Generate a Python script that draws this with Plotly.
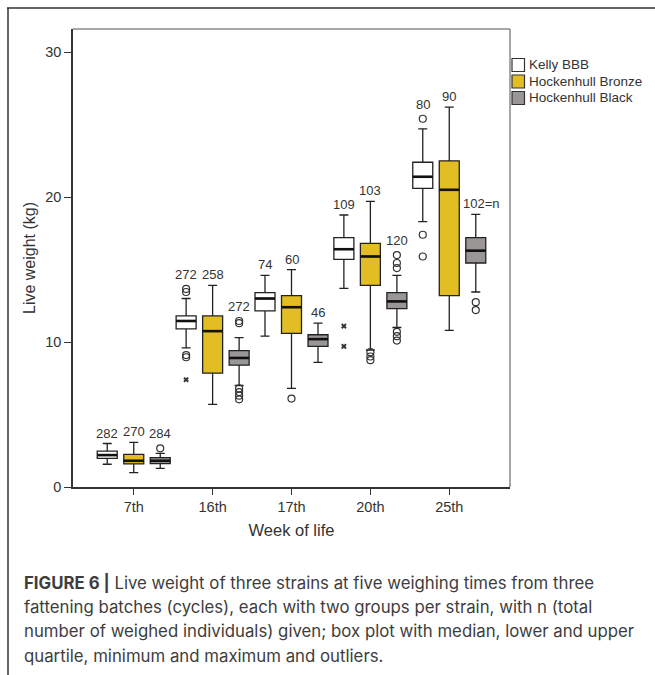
import plotly.graph_objects as go

# ---------------- data ----------------
weeks = ["7th", "16th", "17th", "20th", "25th"]
strains = ["Kelly BBB", "Hockenhull Bronze", "Hockenhull Black"]

kelly_low = [1.57, 9.6, 10.4, 13.7, 18.3]
kelly_q1 = [1.98, 10.9, 12.15, 15.7, 20.6]
kelly_med = [2.2, 11.45, 13.0, 16.4, 21.4]
kelly_q3 = [2.48, 11.8, 13.4, 17.2, 22.4]
kelly_high = [3.0, 13.0, 14.6, 18.76, 24.7]
kelly_out = [[], [13.66, 13.45, 9.1, 8.95], [], [], [25.4, 17.4, 15.9]]
kelly_ext = [[], [7.4], [], [11.1, 9.7], []]
kelly_n = ["282", "272", "74", "109", "80"]

bronze_low = [0.99, 5.7, 6.8, 9.45, 10.8]
bronze_q1 = [1.59, 7.86, 10.6, 13.9, 13.2]
bronze_med = [1.81, 10.75, 12.4, 15.9, 20.5]
bronze_q3 = [2.25, 11.8, 13.2, 16.8, 22.5]
bronze_high = [3.08, 13.9, 15.0, 19.7, 26.2]
bronze_out = [[], [], [6.1], [9.3, 9.0, 8.75], []]
bronze_ext = [[], [], [], [], []]
bronze_n = ["270", "258", "60", "103", "90"]

black_low = [1.29, 7.0, 8.6, 11.0, 13.45]
black_q1 = [1.61, 8.4, 9.7, 12.3, 15.45]
black_med = [1.81, 8.9, 10.2, 12.8, 16.3]
black_q3 = [2.02, 9.4, 10.5, 13.4, 17.2]
black_high = [2.32, 10.3, 11.3, 14.6, 18.8]
black_out = [[2.67], [11.45, 11.3, 6.8, 6.55, 6.3, 6.05], [], [16.0, 15.45, 15.1, 10.7, 10.4, 10.1], [12.75, 12.2]]
black_ext = [[], [], [], [], []]
black_n = ["284", "272", "46", "120", "102=n"]

colors = ["#ffffff", "#e2bd24", "#9a9696"]

# ---------------- layout constants ----------------
W, H = 655, 675
ML, MR, MT, MB = 73, 145, 29, 188
PW, PH = W - ML - MR, H - MT - MB
OFFSET = 0.336
BOXW = 0.2535
TXT = "#333333"
FONT = "Liberation Sans, Arial, sans-serif"


def px_x(px):
    return (px - ML) / PW


def px_y(py):
    return (H - MB - py) / PH


series = [
    (kelly_low, kelly_q1, kelly_med, kelly_q3, kelly_high, kelly_out, kelly_ext, kelly_n),
    (bronze_low, bronze_q1, bronze_med, bronze_q3, bronze_high, bronze_out, bronze_ext, bronze_n),
    (black_low, black_q1, black_med, black_q3, black_high, black_out, black_ext, black_n),
]

fig = go.Figure()
annotations = []

for j, (low, q1, med, q3, high, outs, exts, ns) in enumerate(series):
    pos = [i + (j - 1) * OFFSET for i in range(len(weeks))]
    fig.add_trace(go.Box(
        x=pos, lowerfence=low, q1=q1, median=med, q3=q3, upperfence=high,
        name=strains[j], width=BOXW, whiskerwidth=0.45,
        fillcolor=colors[j], line=dict(color="#222222", width=1.3),
        boxpoints=False, showlegend=False, hoverinfo="skip",
    ))
    # thick median lines
    mx, my = [], []
    for p, m in zip(pos, med):
        mx += [p - BOXW / 2, p + BOXW / 2, None]
        my += [m, m, None]
    fig.add_trace(go.Scatter(x=mx, y=my, mode="lines",
                             line=dict(color="#111111", width=2.6),
                             showlegend=False, hoverinfo="skip"))
    # outliers
    ox, oy, ex, ey = [], [], [], []
    for p, o, e in zip(pos, outs, exts):
        ox += [p] * len(o)
        oy += o
        ex += [p] * len(e)
        ey += e
    fig.add_trace(go.Scatter(x=ox, y=oy, mode="markers",
                             marker=dict(symbol="circle-open", size=7,
                                         color="#333333", line=dict(width=1.2)),
                             showlegend=False, hoverinfo="skip"))
    fig.add_trace(go.Scatter(x=ex, y=ey, mode="markers",
                             marker=dict(symbol="x", size=5, color="#333333",
                                         line=dict(width=0)),
                             showlegend=False, hoverinfo="skip"))
    # n labels
    for p, hi, o, n in zip(pos, high, outs, ns):
        top = max([hi] + o)
        shift = 1 + (4 if top > hi else 0)
        annotations.append(dict(
            x=p, y=top, xref="x", yref="y", text=n, showarrow=False,
            yanchor="bottom", xanchor="center", yshift=shift,
            xshift=(6 if "=" in n else 0),
            font=dict(size=13, color=TXT, family=FONT)))

# ---------------- manual legend ----------------
shapes = []
leg_y = [65, 81.5, 98]
for j, name in enumerate(strains):
    shapes.append(dict(type="rect", xref="paper", yref="paper",
                       x0=px_x(512), x1=px_x(524.5),
                       y0=px_y(leg_y[j] + 6.5), y1=px_y(leg_y[j] - 6.5),
                       fillcolor=colors[j], line=dict(color="#333333", width=1.2)))
    annotations.append(dict(x=px_x(527), y=px_y(leg_y[j]), xref="paper", yref="paper",
                            text=name, showarrow=False, xanchor="left", yanchor="middle",
                            font=dict(size=13.5, color=TXT, family=FONT)))

# plot frame top / right in grey
shapes.append(dict(type="line", xref="paper", yref="paper", x0=0, x1=1, y0=1, y1=1,
                   line=dict(color="#8a8a8a", width=1.5)))
shapes.append(dict(type="line", xref="paper", yref="paper", x0=1, x1=1, y0=0, y1=1,
                   line=dict(color="#8a8a8a", width=1.5)))
# outer figure border (top and left)
shapes.append(dict(type="line", xref="paper", yref="paper", x0=px_x(7), x1=px_x(656),
                   y0=px_y(8), y1=px_y(8), line=dict(color="#333333", width=1.5)))
shapes.append(dict(type="line", xref="paper", yref="paper", x0=px_x(8), x1=px_x(8),
                   y0=px_y(8), y1=px_y(676), line=dict(color="#333333", width=1.5)))

# ---------------- caption ----------------
caption_lines = [
    "<b>FIGURE 6 |</b> Live weight of three strains at five weighing times from three",
    "fattening batches (cycles), each with two groups per strain, with n (total",
    "number of weighed individuals) given; box plot with median, lower and upper",
    "quartile, minimum and maximum and outliers.",
]
cap_y = [582, 606.5, 631, 655.5]
for line, cy in zip(caption_lines, cap_y):
    annotations.append(dict(x=px_x(22), y=px_y(cy), xref="paper", yref="paper",
                            text=line, showarrow=False, xanchor="left", yanchor="middle",
                            font=dict(size=16.8, color="#3d3d3d", family="Inter, Liberation Sans, sans-serif")))

fig.update_layout(
    width=W, height=H,
    margin=dict(l=ML, r=MR, t=MT, b=MB, pad=0),
    paper_bgcolor="white", plot_bgcolor="white",
    showlegend=False,
    font=dict(family=FONT, color=TXT),
    xaxis=dict(range=[-0.77, 4.77], tickmode="array", tickvals=list(range(len(weeks))),
               ticktext=weeks, ticks="outside", ticklen=6, tickwidth=1.3, tickcolor="#333333",
               showline=True, linecolor="#333333", linewidth=1.6, showgrid=False, zeroline=False,
               tickfont=dict(size=14.5, color=TXT),
               title=dict(text="Week of life", font=dict(size=16.5, color=TXT), standoff=10),
               automargin=False),
    yaxis=dict(range=[0, 31.59], tickmode="array", tickvals=[0, 10, 20, 30],
               ticks="outside", ticklen=7, tickwidth=1.3, tickcolor="#333333",
               showline=True, linecolor="#333333", linewidth=1.6, showgrid=False, zeroline=False,
               tickfont=dict(size=14.5, color=TXT),
               title=dict(text="Live weight (kg)", font=dict(size=16, color=TXT), standoff=6),
               automargin=False),
    shapes=shapes,
    annotations=annotations,
)

fig.write_html("out.html")
